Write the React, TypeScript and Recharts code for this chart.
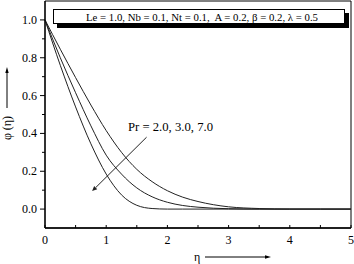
import React from 'react';
import { LineChart, Line, XAxis, YAxis, ReferenceArea, ReferenceLine } from 'recharts';

const eta = [0, 0.25, 0.5, 0.75, 1, 1.25, 1.5, 1.75, 2, 2.25, 2.5, 3, 3.5, 4, 4.5, 5];
const pr2 = [1, 0.845, 0.695, 0.55, 0.415, 0.3, 0.21, 0.145, 0.097, 0.063, 0.04, 0.012, 0.003, 0, 0, 0];
const pr3 = [1, 0.8, 0.615, 0.44, 0.285, 0.185, 0.112, 0.065, 0.036, 0.019, 0.01, 0.002, 0, 0, 0, 0];
const pr7 = [1, 0.76, 0.54, 0.345, 0.185, 0.075, 0.02, 0.003, 0, 0, 0, 0, 0, 0, 0, 0];

const xTicks = [0, 0.5, 1, 1.5, 2, 2.5, 3, 3.5, 4, 4.5, 5];
const yTicks = [0, 0.1, 0.2, 0.3, 0.4, 0.5, 0.6, 0.7, 0.8, 0.9, 1.0];

const boxText = 'Le = 1.0, Nb = 0.1, Nt = 0.1,  A = 0.2, \u03b2 = 0.2, \u03bb = 0.5';
const prLabel = 'Pr = 2.0, 3.0, 7.0';
const yLabel = '\u03c6 (\u03b7)';
const xLabel = '\u03b7';
const arrowStart = { x: 1.66, y: 0.38 };
const arrowEnd = { x: 0.77, y: 0.095 };

const data = eta.map((e, i) => ({ eta: e, pr2: pr2[i], pr3: pr3[i], pr7: pr7[i] }));

const FONT = 'Liberation Serif';
const PLOT_LEFT = 45;
const PLOT_BOTTOM = 228;

const XTick = (p: any) => {
  const v = p.payload.value;
  const major = Math.abs(v - Math.round(v)) < 1e-6;
  return (
    <g>
      <line x1={p.x} x2={p.x} y1={PLOT_BOTTOM} y2={PLOT_BOTTOM - 3} stroke="#000" strokeWidth={1} />
      {major && (
        <text x={p.x} y={244} textAnchor="middle" fontFamily={FONT} fontSize={12} fill="#000">
          {String(v)}
        </text>
      )}
    </g>
  );
};

const YTick = (p: any) => {
  const v = p.payload.value;
  const major = Math.round(v * 10) % 2 === 0;
  return (
    <g>
      <line x1={PLOT_LEFT - (major ? 5 : 3)} x2={PLOT_LEFT} y1={p.y} y2={p.y} stroke="#000" strokeWidth={1} />
      {major && (
        <text x={PLOT_LEFT - 8} y={p.y + 4} textAnchor="end" fontFamily={FONT} fontSize={12} fill="#000">
          {v.toFixed(1)}
        </text>
      )}
    </g>
  );
};

const ArrowShape = (p: any) => {
  const { x1, y1, x2, y2 } = p;
  const dx = x2 - x1;
  const dy = y2 - y1;
  const len = Math.sqrt(dx * dx + dy * dy) || 1;
  const ux = dx / len;
  const uy = dy / len;
  const hl = 5;
  const hw = 2.2;
  const bx = x2 - ux * hl;
  const by = y2 - uy * hl;
  const pts = `${x2},${y2} ${bx - uy * hw},${by + ux * hw} ${bx + uy * hw},${by - ux * hw}`;
  return (
    <g>
      <line x1={x1} y1={y1} x2={bx} y2={by} stroke="#222" strokeWidth={1} />
      <polygon points={pts} fill="#222" />
    </g>
  );
};

export default function App() {
  return (
    <div style={{ position: 'absolute', left: 0, top: 0, width: 354, height: 264, background: '#fff', fontFamily: FONT }}>
      <LineChart width={354} height={264} data={data} margin={{ top: 1, right: 3, left: 0, bottom: 0 }}>
        <XAxis
          dataKey="eta"
          type="number"
          domain={[0, 5]}
          ticks={xTicks}
          height={36}
          tickLine={false}
          tick={<XTick />}
          axisLine={{ stroke: '#000', strokeWidth: 1.5 }}
          interval={0}
        />
        <YAxis
          type="number"
          domain={[-0.1, 1.1]}
          ticks={yTicks}
          width={45}
          tickLine={false}
          tick={<YTick />}
          axisLine={{ stroke: '#000', strokeWidth: 1.2 }}
          interval={0}
          allowDataOverflow
        />
        <ReferenceArea x1={0} x2={5} y1={-0.1} y2={1.1} fill="none" stroke="#000" strokeWidth={1} ifOverflow="visible" />
        <Line type="monotone" dataKey="pr2" stroke="#222" strokeWidth={1} dot={false} isAnimationActive={false} />
        <Line type="monotone" dataKey="pr3" stroke="#222" strokeWidth={1} dot={false} isAnimationActive={false} />
        <Line type="monotone" dataKey="pr7" stroke="#222" strokeWidth={1} dot={false} isAnimationActive={false} />
        <ReferenceLine segment={[arrowStart, arrowEnd]} shape={ArrowShape} ifOverflow="visible" />
      </LineChart>
      <svg
        width={354}
        height={264}
        style={{ position: 'absolute', left: 0, top: 0, pointerEvents: 'none' }}
      >
        <rect x={57} y={13} width={292} height={15} fill="#000" />
        <rect x={53.5} y={9.5} width={291} height={14} fill="#fff" stroke="#000" strokeWidth={1} />
        <text
          x={86}
          y={20.5}
          fontFamily={FONT}
          fontSize={10.8}
          fill="#000"
          textLength={232}
          lengthAdjust="spacingAndGlyphs"
          xmlSpace="preserve"
        >
          {boxText}
        </text>
        <text
          x={128}
          y={131}
          fontFamily={FONT}
          fontSize={11.5}
          fill="#000"
          textLength={85}
          lengthAdjust="spacingAndGlyphs"
        >
          {prLabel}
        </text>
        <text
          x={11}
          y={128}
          transform="rotate(-90 11 128)"
          textAnchor="middle"
          fontFamily={FONT}
          fontSize={12}
          fill="#000"
        >
          {yLabel}
        </text>
        <line x1={7} y1={108} x2={7} y2={72} stroke="#000" strokeWidth={1} />
        <polygon points="7,67 5.3,73 8.7,73" fill="#000" />
        <text x={194} y={261} fontFamily={FONT} fontSize={12} fill="#000">{xLabel}</text>
        <line x1={205} y1={257} x2={266} y2={257} stroke="#000" strokeWidth={1} />
        <polygon points="271,257 265,255.3 265,258.7" fill="#000" />
      </svg>
    </div>
  );
}
